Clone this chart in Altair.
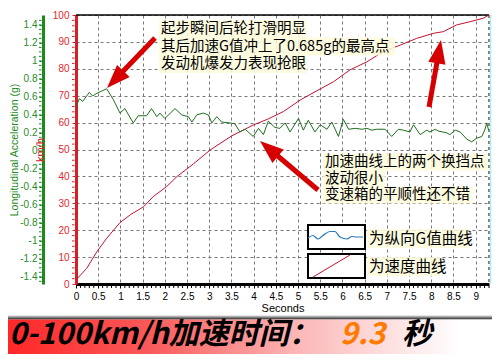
import math
import pandas as pd
import altair as alt

# ---------------- data ----------------
t_speed = [0, 0.24, 0.47, 0.69, 0.99, 1.22, 1.52, 1.74, 2.04, 2.27, 2.64, 3.02, 3.5,
           3.99, 4.32, 4.67, 5.05, 5.42, 5.8, 6.17, 6.55, 6.92, 7.3, 7.67, 8.05, 8.27,
           8.57, 8.87, 9.17, 9.3]
v_speed = [1.5, 5.8, 12, 17, 22.8, 25.7, 28.7, 32.5, 36.2, 39.9, 44.6, 49.8, 55,
           59.1, 61.3, 64.1, 68.4, 71.8, 75.2, 79.6, 82.6, 86.4, 88.8, 91.3, 93.2, 93.8,
           96.3, 97.5, 98.8, 100]

t_g = [0.0, 0.075, 0.15, 0.3, 0.375, 0.47, 0.69, 0.84, 0.99, 1.1, 1.29, 1.4, 1.59, 1.7,
       1.82, 1.89, 2.0, 2.23, 2.38, 2.53, 2.61, 2.72, 2.87, 2.98, 3.06, 3.17, 3.28, 3.47,
       3.58, 3.69, 3.81, 3.99, 4.11, 4.22, 4.33, 4.48, 4.59, 4.71, 4.82, 5.01, 5.12, 5.23,
       5.38, 5.5, 5.65, 5.76, 5.91, 6.02, 6.14, 6.29, 6.44, 6.55, 6.66, 6.77, 6.96, 7.11,
       7.26, 7.37, 7.52, 7.6, 7.75, 7.9, 7.97, 8.09, 8.16, 8.35, 8.42, 8.54, 8.65, 8.8,
       8.91, 9.02, 9.14, 9.21, 9.25, 9.29]
g_vals = [0.49, 0.58, 0.55, 0.65, 0.61, 0.64, 0.69, 0.57, 0.42, 0.47, 0.31, 0.39, 0.39, 0.47,
          0.38, 0.42, 0.36, 0.47, 0.40, 0.38, 0.32, 0.40, 0.42, 0.40, 0.31, 0.38, 0.32, 0.31,
          0.30, 0.21, 0.24, 0.16, 0.25, 0.18, 0.33, 0.26, 0.25, 0.31, 0.21, 0.36, 0.23, 0.34,
          0.21, 0.29, 0.24, 0.32, 0.16, 0.35, 0.24, 0.25, 0.24, 0.25, 0.23, 0.24, 0.24, 0.16,
          0.24, 0.23, 0.21, 0.29, 0.18, 0.23, 0.21, 0.24, 0.22, 0.20, 0.18, 0.23, 0.21, 0.13,
          0.10, 0.14, 0.16, 0.24, 0.31, 0.23]

x_ticks = [0, 0.5, 1, 1.5, 2, 2.5, 3, 3.5, 4, 4.5, 5, 5.5, 6, 6.5, 7, 7.5, 8, 8.5, 9]
speed_ticks = [0, 10, 20, 30, 40, 50, 60, 70, 80, 90, 100]
g_ticks = [-1.4, -1.2, -1, -0.8, -0.6, -0.4, -0.2, 0, 0.2, 0.4, 0.6, 0.8, 1, 1.2, 1.4]
# minor tick positions (axis decoration)
x_minor = [round(i * 0.1, 1) for i in range(94) if i % 5 != 0]
speed_minor = [i for i in range(0, 101, 2) if i % 10 != 0]
g_minor = [round(-1.45 + i * 0.05, 2) for i in range(59)]

note1 = ["起步瞬间后轮打滑明显", "其后加速G值冲上了0.685g的最高点", "发动机爆发力表现抢眼"]
note2 = ["加速曲线上的两个换挡点", "波动很小", "变速箱的平顺性还不错"]
legend_labels = ["为纵向G值曲线", "为速度曲线"]

# ---------------- styling ----------------
W, H = 413, 269
RED = "#d42027"
GREEN = "#1d8a1d"
ARROW = "#d60000"
CJK = "Noto Sans CJK SC"
NUM = "Liberation Sans"
G_DOMAIN = [-1.48, 1.51]

speed_df = pd.DataFrame({"t": t_speed, "v": v_speed})
g_df = pd.DataFrame({"t": t_g, "g": g_vals})
one = pd.DataFrame({"d": [0]})

x_enc = alt.X("t:Q", title="Seconds",
              scale=alt.Scale(domain=[0, 9.3], nice=False, zero=False),
              axis=alt.Axis(values=x_ticks, labelExpr="'' + datum.value",
                            domainColor="black", domainWidth=3, tickColor="black",
                            tickSize=4, labelColor="black", labelFont=NUM, labelFontSize=10,
                            labelPadding=3, labelFlush=False,
                            grid=True, gridDash=[3, 3], gridColor="#777", gridWidth=1,
                            titleFont=NUM, titleFontSize=11, titleFontWeight="normal",
                            titleColor="black", titlePadding=1))

speed_line = alt.Chart(speed_df).mark_line(color="#c4122f", strokeWidth=1).encode(
    x=x_enc,
    y=alt.Y("v:Q", scale=alt.Scale(domain=[0, 100], nice=False),
            axis=alt.Axis(orient="left", values=speed_ticks, title=None,
                          labelColor="#e0262c", labelFont=NUM, labelFontSize=10,
                          domainColor=RED, domainWidth=3, tickColor=RED, tickSize=4,
                          labelPadding=3,
                          grid=True, gridDash=[3, 3], gridColor="#777", gridWidth=1)),
)

g_line = alt.Chart(g_df).mark_line(color="#1e6e1e", strokeWidth=1).encode(
    x=x_enc,
    y=alt.Y("g:Q", scale=alt.Scale(domain=G_DOMAIN, nice=False, zero=False),
            axis=alt.Axis(orient="left", offset=33, values=g_ticks,
                          labelExpr="'' + datum.value",
                          title="Longitudinal Acceleration (g)",
                          titleColor=GREEN, titleFont=NUM, titleFontSize=10.5,
                          titleFontWeight="normal", titlePadding=0,
                          labelColor="#2a8a2a", labelFont=NUM, labelFontSize=10,
                          domainColor=GREEN, domainWidth=3, tickColor=GREEN, tickSize=4,
                          labelPadding=2, grid=False)),
)

# minor ticks drawn through the same scales
x_minor_ticks = alt.Chart(pd.DataFrame({"t": x_minor})).mark_rule(color="black", strokeWidth=1).encode(
    x=x_enc, y=alt.value(H + 1.5), y2=alt.value(H + 4))
speed_minor_ticks = alt.Chart(pd.DataFrame({"v": speed_minor})).mark_rule(color=RED, strokeWidth=1).encode(
    y=alt.Y("v:Q", scale=alt.Scale(domain=[0, 100], nice=False), axis=None),
    x=alt.value(-1.5), x2=alt.value(-4))
g_minor_ticks = alt.Chart(pd.DataFrame({"g": g_minor})).mark_rule(color=GREEN, strokeWidth=1).encode(
    y=alt.Y("g:Q", scale=alt.Scale(domain=G_DOMAIN, nice=False, zero=False), axis=None),
    x=alt.value(-34.5), x2=alt.value(-37))


def P(x, y):
    """page pixel -> plot-area pixel"""
    return x - 76, y - 15


def rule(p1, p2, color, width, dash=None):
    kw = dict(color=color, strokeWidth=width, strokeCap="butt")
    if dash:
        kw["strokeDash"] = dash
    return alt.Chart(one).mark_rule(**kw).encode(
        x=alt.value(p1[0]), y=alt.value(p1[1]), x2=alt.value(p2[0]), y2=alt.value(p2[1]))


def rect(p1, p2, fill, stroke=None, sw=0, opacity=1.0):
    kw = dict(fill=fill, opacity=opacity)
    if stroke:
        kw.update(stroke=stroke, strokeWidth=sw)
    return alt.Chart(one).mark_rect(**kw).encode(
        x=alt.value(p1[0]), y=alt.value(p1[1]), x2=alt.value(p2[0]), y2=alt.value(p2[1]))


def text(p, s, size=14.5, color="black", font=CJK, weight="normal", style="normal",
         align="left", baseline="middle", angle=0):
    return alt.Chart(one).mark_text(text=s, font=font, fontSize=size, color=color,
                                    fontWeight=weight, fontStyle=style, align=align,
                                    baseline=baseline, angle=angle).encode(
        x=alt.value(p[0]), y=alt.value(p[1]))


def arrow(tail, tip, shaft=5, head=620):
    dx, dy = tip[0] - tail[0], tip[1] - tail[1]
    L = math.hypot(dx, dy)
    ux, uy = dx / L, dy / L
    r = math.sqrt(head) / 2
    cx, cy = tip[0] - ux * r, tip[1] - uy * r
    ang = math.degrees(math.atan2(ux, -uy)) % 360
    s = rule(tail, (cx, cy), ARROW, shaft)
    h = alt.Chart(one).mark_point(shape="M0,-1L0.7,0.9L-0.7,0.9Z", size=head, angle=ang,
                                  filled=True, color=ARROW, opacity=1, strokeWidth=0).encode(
        x=alt.value(cx), y=alt.value(cy))
    return [s, h]


layers = []
# frame
layers.append(rule((0, 0), (W, 0), "black", 1.5))
layers.append(rule((W, 0), (W, H), "black", 1, [3, 3]))
layers.append(rule((W + 1.5, 0), (W + 1.5, H), "#a8eef0", 1.5))
layers += [speed_line, g_line, x_minor_ticks, speed_minor_ticks, g_minor_ticks]

# red axis title "km/h"
layers.append(text(P(41, 150), "km/h", size=11, color=RED, font=NUM, align="center", angle=270))

# note 1
n1_y = [29, 46.5, 64]
n1_w = [148, 236, 148]
for s, y, w in zip(note1, n1_y, n1_w):
    x0, yy = P(159, y)
    layers.append(rect((x0, yy - 9), (x0 + w, yy + 9), "#fdfbdc", opacity=0.85))
for s, y in zip(note1, n1_y):
    layers.append(text(P(161, y), s))

# note 2
n2_y = [162, 178.5, 195]
n2_w = [165, 62, 150]
for s, y, w in zip(note2, n2_y, n2_w):
    x0, yy = P(323, y)
    layers.append(rect((x0, yy - 8.5), (x0 + w, yy + 8.5), "#fdfbdc", opacity=0.85))
for s, y in zip(note2, n2_y):
    layers.append(text(P(325, y), s))

# legend boxes
layers.append(rect(P(308, 225), P(365, 249), "white", "black", 2))
layers.append(rect(P(308, 254), P(365, 278), "white", "black", 2))
wave_px = [308, 313, 318, 323, 330, 335, 340, 347, 352, 357, 363]
wave_py = [238, 235.5, 239, 235.5, 231.5, 231.5, 237, 239, 236.5, 237, 237]
wave_df = pd.DataFrame({"x": [p - 76 for p in wave_px], "y": [p - 15 for p in wave_py]})
layers.append(alt.Chart(wave_df).mark_line(color="#2a7ab8", strokeWidth=1.2, interpolate="monotone").encode(
    x=alt.X("x:Q", scale=None), y=alt.Y("y:Q", scale=None)))
layers.append(rule(P(313, 277), P(350, 255), "#c4122f", 1))
layers.append(rect(P(367, 229), P(470, 248), "#fdfbdc", opacity=0.85))
layers.append(rect(P(367, 257), P(440, 276), "#fdfbdc", opacity=0.85))
layers.append(text(P(369, 239), legend_labels[0], size=15.5))
layers.append(text(P(369, 267), legend_labels[1], size=15.5))

# arrows
layers += arrow(P(155, 38), P(107, 88))
layers += arrow(P(318, 190), P(260, 141))
layers += arrow(P(429, 107), P(441, 40))

# bottom banner
shadow = alt.LinearGradient(gradient="linear", x1=0, x2=0, y1=0, y2=1,
                            stops=[alt.GradientStop(color="#ffffff", offset=0),
                                   alt.GradientStop(color="#888888", offset=0.5),
                                   alt.GradientStop(color="#222222", offset=1)])
band = alt.LinearGradient(gradient="linear", x1=0, x2=1, y1=0, y2=0,
                          stops=[alt.GradientStop(color="#ff2424", offset=0),
                                 alt.GradientStop(color="#fa5a5a", offset=0.3),
                                 alt.GradientStop(color="#fcb8b8", offset=0.6),
                                 alt.GradientStop(color="#ffffff", offset=0.92)])
layers.append(rect(P(0, 315), P(500, 319.5), shadow))
layers.append(rect(P(0, 319.5), P(500, 362), band))
layers.append(text(P(9, 344), "0-100km/h加速时间：", size=30, weight="bold", style="italic",
                   baseline="alphabetic"))
layers.append(text(P(340, 344), "9.3", size=30, weight="bold", style="italic",
                   color="#ff7a00", baseline="alphabetic"))
layers.append(text(P(402, 344), "秒", size=30, weight="bold", style="italic",
                   baseline="alphabetic"))

chart = alt.layer(*layers).resolve_scale(y="independent").properties(
    width=W, height=H,
    padding={"left": 68, "top": 7, "right": 3, "bottom": 70},
    autosize=alt.AutoSizeParams(type="none"),
    background="white",
).configure_view(stroke=None)

chart.save("out.html", embed_options={"renderer": "svg", "actions": False})
